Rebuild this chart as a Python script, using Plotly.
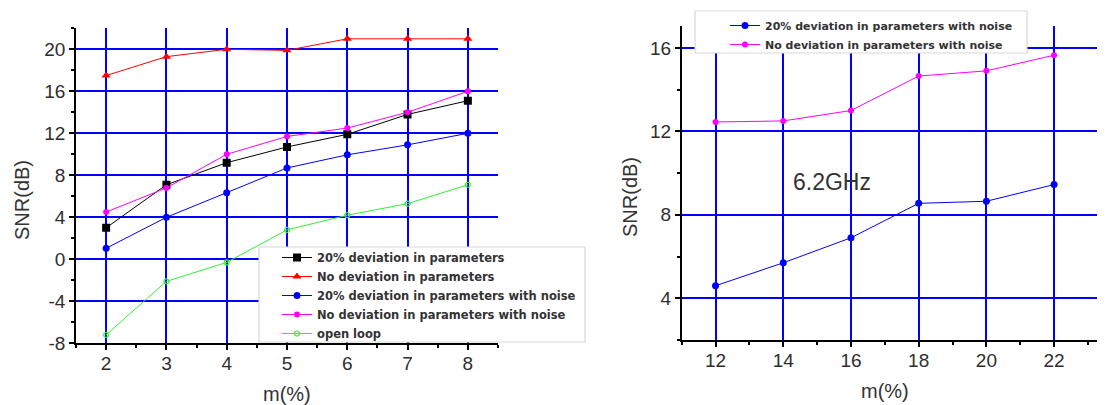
import plotly.graph_objects as go

W, H = 1105, 405
OFF = 8  # page body margin: figure origin sits 8px inside the window

# ---------------- data ----------------
m_left = [2, 3, 4, 5, 6, 7, 8]
dev20 = [3.0, 7.1, 9.2, 10.7, 11.9, 13.8, 15.1]
nodev = [17.5, 19.3, 20.0, 19.9, 21.0, 21.0, 21.0]
dev20_noise = [1.05, 4.0, 6.35, 8.7, 9.95, 10.9, 12.0]
nodev_noise = [4.5, 6.8, 10.0, 11.7, 12.5, 14.0, 16.0]
open_loop = [-7.2, -2.1, -0.3, 2.8, 4.2, 5.3, 7.1]

m_right = [12, 14, 16, 18, 20, 22]
dev20_noise_r = [4.6, 5.7, 6.9, 8.55, 8.65, 9.45]
nodev_noise_r = [12.45, 12.5, 13.0, 14.65, 14.9, 15.65]

yticks_left = [-8, -4, 0, 4, 8, 12, 16, 20]
yticklabels_left = ["-8", "-4", "0", "4", "8", "12", "16", "20"]

names_left = ["20% deviation in parameters", "No deviation in parameters",
              "20% deviation in parameters with noise",
              "No deviation in parameters with noise", "open loop"]
names_right = ["20% deviation in parameters with noise",
               "No deviation in parameters with noise"]


def px(x):
    return (x - OFF) / W


def py(y):
    return 1 - (y - OFF) / H


fig = go.Figure()

styles_left = [
    (dev20, "black", dict(symbol="square", size=8, color="black")),
    (nodev, "#FF0000", dict(symbol="triangle-up", size=8, color="#FF0000")),
    (dev20_noise, "#0000FF", dict(symbol="circle", size=7, color="#0000FF")),
    (nodev_noise, "#FF00FF", dict(symbol="circle", size=6, color="#FF00FF")),
    (open_loop, "#33EE33", dict(symbol="circle-open", size=5, color="#33EE33",
                                line=dict(width=1.2, color="#33EE33"))),
]
for (ys, col, mk), nm in zip(styles_left, names_left):
    fig.add_trace(go.Scatter(x=m_left, y=ys, name=nm, mode="lines+markers",
                             line=dict(color=col, width=1), marker=mk,
                             xaxis="x", yaxis="y", legend="legend"))

styles_right = [
    (dev20_noise_r, "#0000FF", dict(symbol="circle", size=7, color="#0000FF")),
    (nodev_noise_r, "#FF00FF", dict(symbol="circle", size=6, color="#FF00FF")),
]
for (ys, col, mk), nm in zip(styles_right, names_right):
    fig.add_trace(go.Scatter(x=m_right, y=ys, name=nm, mode="lines+markers",
                             line=dict(color=col, width=1), marker=mk,
                             xaxis="x2", yaxis="y2", legend="legend2"))

tickfont = dict(family="Arial, Liberation Sans", size=19, color="#2e2e2e")
axis_common = dict(showline=True, linecolor="black", linewidth=1.5,
                   ticks="outside", ticklen=5, tickwidth=1.5, tickcolor="black",
                   showgrid=True, gridcolor="#0000FF", gridwidth=1.8,
                   zeroline=False, tickfont=tickfont, mirror=False,
                   automargin=False)

legend_font = dict(family="DejaVu Sans", size=11.5, color="#333333", weight="bold")
title_font = dict(family="Arial, Liberation Sans", size=20, color="#333333")

fig.update_layout(
    width=W, height=H,
    margin=dict(l=0, r=0, t=0, b=0, autoexpand=False),
    paper_bgcolor="white", plot_bgcolor="white",
    showlegend=True,
    xaxis=dict(domain=[px(76), px(498)], range=[1.5, 8.5], dtick=1, tick0=0,
               anchor="y", ticklabelstandoff=-3,
               minor=dict(dtick=0.5, ticklen=3, tickcolor="black", showgrid=False),
               **axis_common),
    yaxis=dict(domain=[py(343.3), py(28.3)], range=[-8, 22],
               tickmode="array", tickvals=yticks_left, ticktext=yticklabels_left,
               anchor="x",
               minor=dict(dtick=2, tick0=0, ticklen=3, tickcolor="black", showgrid=False),
               **axis_common),
    xaxis2=dict(domain=[px(681.7), 1.0], range=[11, 23.74], dtick=2, tick0=0,
                anchor="y2", ticklabelstandoff=-3,
                minor=dict(dtick=1, ticklen=3, tickcolor="black", showgrid=False),
                **axis_common),
    yaxis2=dict(domain=[py(340), py(26)], range=[2, 17.05], dtick=4, tick0=0,
                anchor="x2",
                minor=dict(dtick=2, ticklen=3, tickcolor="black", showgrid=False),
                **axis_common),
    legend=dict(xref="container", yref="container",
                x=px(277), y=py(243), xanchor="left", yanchor="top",
                bgcolor="rgba(0,0,0,0)", borderwidth=0,
                font=legend_font, tracegroupgap=0, itemwidth=30),
    legend2=dict(xref="container", yref="container",
                 x=px(725), y=py(11), xanchor="left", yanchor="top",
                 bgcolor="rgba(0,0,0,0)", borderwidth=0,
                 font=dict(legend_font, size=11), tracegroupgap=0, itemwidth=30),
    shapes=[
        dict(type="rect", xref="paper", yref="paper", layer="above",
             x0=px(259), x1=px(585), y0=py(342), y1=py(247),
             fillcolor="white", line=dict(color="#D8D8D8", width=1.2)),
        dict(type="rect", xref="paper", yref="paper", layer="above",
             x0=px(695), x1=px(1027), y0=py(53), y1=py(11),
             fillcolor="white", line=dict(color="#D8D8D8", width=1.2)),
    ],
    annotations=[
        dict(text="SNR(dB)", x=px(22), y=py(200), xref="paper", yref="paper",
             textangle=-90, showarrow=False, xanchor="center", yanchor="middle",
             font=title_font),
        dict(text="SNR(dB)", x=px(630), y=py(197), xref="paper", yref="paper",
             textangle=-90, showarrow=False, xanchor="center", yanchor="middle",
             font=title_font),
        dict(text="m(%)", x=px(287), y=py(394), xref="paper", yref="paper",
             showarrow=False, xanchor="center", yanchor="middle",
             font=title_font),
        dict(text="m(%)", x=px(885), y=py(391), xref="paper", yref="paper",
             showarrow=False, xanchor="center", yanchor="middle",
             font=title_font),
        dict(text="6.2GHz", x=px(832), y=py(182), xref="paper", yref="paper",
             showarrow=False, xanchor="center", yanchor="middle",
             font=dict(title_font, size=23)),
    ],
)

fig.write_html("out.html")
